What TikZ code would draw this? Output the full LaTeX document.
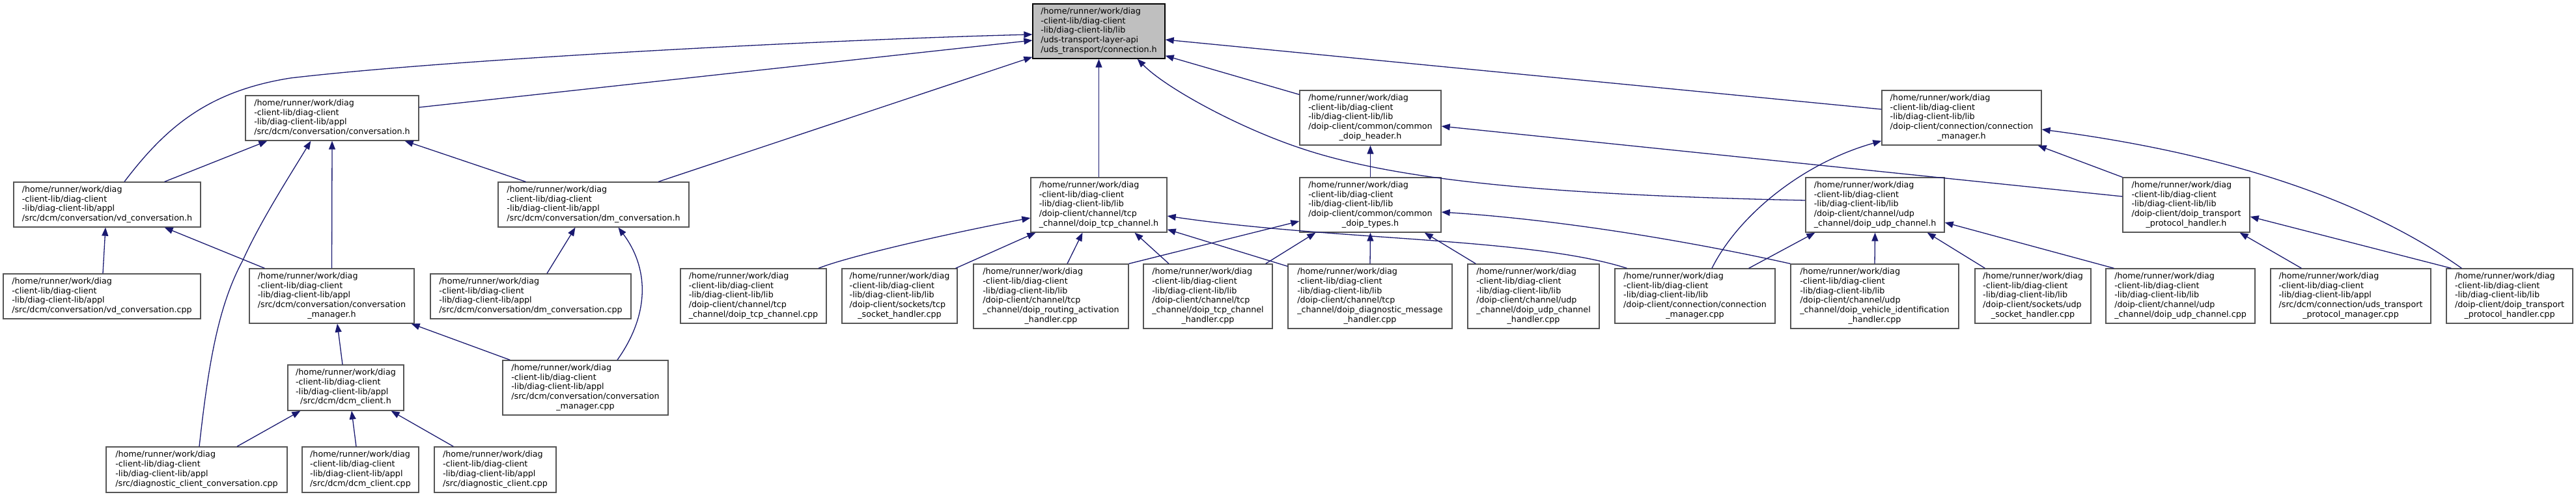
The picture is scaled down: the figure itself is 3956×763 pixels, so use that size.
\documentclass[tikz,border=0pt]{standalone}
\usepackage{fontspec}
\setmainfont{DejaVu Sans}
\usetikzlibrary{arrows.meta}
\definecolor{edgecol}{HTML}{191970}
\definecolor{rootfill}{HTML}{BFBFBF}
\definecolor{boxcol}{HTML}{555555}
\newcommand{\hd}{/home/runner/work/diag\\-client-lib/diag-client\\-lib/diag-client-lib/}
\newcommand{\lbl}[2]{\begin{tabular}{@{}l@{}}#1\\\multicolumn{1}{@{}c@{}}{#2}\end{tabular}}
\tikzset{
  box/.style={draw=boxcol, fill=white, line width=1.3pt, inner sep=0pt, font=\fontsize{12.7}{14.7}\selectfont},
  rootbox/.style={box, draw=black, fill=rootfill},
  edge/.style={draw=edgecol, line width=1.3pt, -{Triangle[length=13pt,width=10pt]}}
}
\begin{document}
\begin{tikzpicture}[x=1pt,y=-1pt]
\useasboundingbox[fill=white] (0,0) rectangle (3956,763);
% row 1
\node[rootbox, minimum width=203pt, minimum height=84pt] (top) at (1687.5,48) {\lbl{/home/runner/work/diag\\-client-lib/diag-client\\-lib/diag-client-lib/lib\\/uds-transport-layer-api}{/uds\_transport/connection.h}};
% row 2
\node[box, minimum width=266pt, minimum height=69pt] (convh) at (510,181.5) {\lbl{\hd appl}{/src/dcm/conversation/conversation.h}};
\node[box, minimum width=217pt, minimum height=84pt] (header) at (2104.5,181) {\lbl{\hd lib\\/doip-client/common/common}{\_doip\_header.h}};
\node[box, minimum width=245pt, minimum height=84pt] (cmgrH) at (3012.5,181) {\lbl{\hd lib\\/doip-client/connection/connection}{\_manager.h}};
% row 3
\node[box, minimum width=287pt, minimum height=69pt] (vdh) at (164.5,314.5) {\lbl{\hd appl}{/src/dcm/conversation/vd\_conversation.h}};
\node[box, minimum width=293pt, minimum height=69pt] (dmh) at (911.5,314.5) {\lbl{\hd appl}{/src/dcm/conversation/dm\_conversation.h}};
\node[box, minimum width=209pt, minimum height=84pt] (tcpH) at (1687.5,315) {\lbl{\hd lib\\/doip-client/channel/tcp}{\_channel/doip\_tcp\_channel.h}};
\node[box, minimum width=217pt, minimum height=84pt] (typesH) at (2104.5,315) {\lbl{\hd lib\\/doip-client/common/common}{\_doip\_types.h}};
\node[box, minimum width=213pt, minimum height=84pt] (udpH) at (2879.5,315) {\lbl{\hd lib\\/doip-client/channel/udp}{\_channel/doip\_udp\_channel.h}};
\node[box, minimum width=195pt, minimum height=84pt] (tphH) at (3357.5,315) {\lbl{\hd lib\\/doip-client/doip\_transport}{\_protocol\_handler.h}};
% row 4
\node[box, minimum width=303pt, minimum height=69pt] (vdcpp) at (156.5,455.5) {\lbl{\hd appl}{/src/dcm/conversation/vd\_conversation.cpp}};
\node[box, minimum width=253pt, minimum height=84pt] (cvmH) at (509.5,455) {\lbl{\hd appl\\/src/dcm/conversation/conversation}{\_manager.h}};
\node[box, minimum width=308pt, minimum height=69pt] (dmcpp) at (815,455.5) {\lbl{\hd appl}{/src/dcm/conversation/dm\_conversation.cpp}};
\node[box, minimum width=224pt, minimum height=84pt] (tcpcpp) at (1157,455) {\lbl{\hd lib\\/doip-client/channel/tcp}{\_channel/doip\_tcp\_channel.cpp}};
\node[box, minimum width=177pt, minimum height=84pt] (tcpsock) at (1381.5,455) {\lbl{\hd lib\\/doip-client/sockets/tcp}{\_socket\_handler.cpp}};
\node[box, minimum width=238pt, minimum height=99pt] (routing) at (1614,455.5) {\lbl{\hd lib\\/doip-client/channel/tcp\\\_channel/doip\_routing\_activation}{\_handler.cpp}};
\node[box, minimum width=198pt, minimum height=99pt] (tcphd) at (1855,455.5) {\lbl{\hd lib\\/doip-client/channel/tcp\\\_channel/doip\_tcp\_channel}{\_handler.cpp}};
\node[box, minimum width=252pt, minimum height=99pt] (diagmsg) at (2104,455.5) {\lbl{\hd lib\\/doip-client/channel/tcp\\\_channel/doip\_diagnostic\_message}{\_handler.cpp}};
\node[box, minimum width=202pt, minimum height=99pt] (udphd) at (2355,455.5) {\lbl{\hd lib\\/doip-client/channel/udp\\\_channel/doip\_udp\_channel}{\_handler.cpp}};
\node[box, minimum width=246pt, minimum height=84pt] (cmgrcpp) at (2603,455) {\lbl{\hd lib\\/doip-client/connection/connection}{\_manager.cpp}};
\node[box, minimum width=258pt, minimum height=99pt] (vehid) at (2879,455.5) {\lbl{\hd lib\\/doip-client/channel/udp\\\_channel/doip\_vehicle\_identification}{\_handler.cpp}};
\node[box, minimum width=178pt, minimum height=84pt] (udpsock) at (3122,455) {\lbl{\hd lib\\/doip-client/sockets/udp}{\_socket\_handler.cpp}};
\node[box, minimum width=229pt, minimum height=84pt] (udpcpp) at (3348.5,455) {\lbl{\hd lib\\/doip-client/channel/udp}{\_channel/doip\_udp\_channel.cpp}};
\node[box, minimum width=246pt, minimum height=84pt] (utpm) at (3610,455) {\lbl{\hd appl\\/src/dcm/connection/uds\_transport}{\_protocol\_manager.cpp}};
\node[box, minimum width=194pt, minimum height=84pt] (tphcpp) at (3854,455) {\lbl{\hd lib\\/doip-client/doip\_transport}{\_protocol\_handler.cpp}};
% row 5
\node[box, minimum width=178pt, minimum height=70pt] (dcmH) at (531,596) {\lbl{\hd appl}{/src/dcm/dcm\_client.h}};
\node[box, minimum width=254pt, minimum height=84pt] (cvmcpp) at (899,596) {\lbl{\hd appl\\/src/dcm/conversation/conversation}{\_manager.cpp}};
% row 6
\node[box, minimum width=278pt, minimum height=70pt] (dcccpp) at (302,722) {\lbl{\hd appl}{/src/diagnostic\_client\_conversation.cpp}};
\node[box, minimum width=179pt, minimum height=70pt] (dcmcpp) at (553.5,722) {\lbl{\hd appl}{/src/dcm/dcm\_client.cpp}};
\node[box, minimum width=187pt, minimum height=70pt] (dccpp) at (760.5,722) {\lbl{\hd appl}{/src/diagnostic\_client.cpp}};
% edges to top
\draw[edge] ([xshift=26.5pt]vdh.north) .. controls (255,195) and (320,140) .. (446,120) .. controls (700,90) and (1300,60) .. ([yshift=-5pt]top.west);
\draw[edge] ([yshift=16.5pt]convh.east) -- ([yshift=-14pt]top.west);
\draw[edge] ([xshift=99.5pt]dmh.north) -- ([yshift=3pt]top.south west);
\draw[edge] (tcpH.north) -- (top.south);
\draw[edge] ([yshift=13pt]cmgrH.west) -- ([yshift=-13pt]top.east);
\draw[edge] ([yshift=-7pt]header.north west) -- ([yshift=5pt]top.south east);
\draw[edge] ([yshift=7pt]udpH.west) .. controls (2400,300) and (2150,280) .. (1995,227) .. controls (1900,195) and (1790,135) .. ([xshift=-43pt]top.south east);
% conversation.h
\draw[edge] ([xshift=-56pt]vdh.north east) -- ([xshift=34pt]convh.south west);
\draw[edge] (cvmH.north) -- (convh.south);
\draw[edge] ([xshift=43pt]dmh.north west) -- ([xshift=-22pt]convh.south east);
\draw[edge] ([xshift=4pt]dcccpp.north) .. controls (320,560) and (335,470) .. (373,400) .. controls (400,340) and (445,270) .. ([xshift=101pt]convh.south west);
% dm_conversation.h
\draw[edge] ([xshift=25pt]dmcpp.north) -- ([xshift=-28pt]dmh.south);
\draw[edge] ([xshift=49pt]cvmcpp.north) .. controls (1000,480) and (995,410) .. ([xshift=38pt]dmh.south);
% vd_conversation.h
\draw[edge] ([xshift=1.5pt]vdcpp.north) -- ([xshift=-2.5pt]vdh.south);
\draw[edge] ([xshift=24pt]cvmH.north west) -- ([xshift=-56pt]vdh.south east);
% conversation_manager.h
\draw[edge] ([xshift=12pt]cvmcpp.north west) -- ([xshift=-5pt]cvmH.south east);
\draw[edge] ([xshift=-5pt]dcmH.north) -- ([xshift=8.5pt]cvmH.south);
% dcm_client.h
\draw[edge] ([xshift=62pt]dcccpp.north) -- ([xshift=20pt]dcmH.south west);
\draw[edge] ([xshift=-6.5pt]dcmcpp.north) -- ([xshift=9pt]dcmH.south);
\draw[edge] ([xshift=30pt]dccpp.north west) -- ([xshift=-20pt]dcmH.south east);
% doip_tcp_channel.h
\draw[edge] ([xshift=100pt]tcpcpp.north) .. controls (1300,395) and (1450,360) .. ([yshift=-20pt]tcpH.west);
\draw[edge] ([xshift=-3pt]tcpsock.north east) -- ([xshift=8pt]tcpH.south west);
\draw[edge] ([xshift=25pt]routing.north) -- ([xshift=-25pt]tcpH.south);
\draw[edge] ([xshift=-60pt]tcphd.north) -- ([xshift=55pt]tcpH.south);
\draw[edge] ([yshift=-4pt]diagmsg.north west) -- ([yshift=5pt]tcpH.south east);
\draw[edge] ([xshift=19pt]cmgrcpp.north west) .. controls (2350,365) and (2050,370) .. ([yshift=-17pt]tcpH.east);
% common_doip_header.h
\draw[edge] (typesH.north) -- (header.south);
\draw[edge] ([yshift=13pt]tphH.west) -- ([yshift=-13pt]header.east);
% common_doip_types.h
\draw[edge] (routing.north east) -- ([yshift=-25pt]typesH.west);
\draw[edge] ([xshift=-11pt]tcphd.north east) -- ([xshift=25pt]typesH.south west);
\draw[edge] (diagmsg.north) -- (typesH.south);
\draw[edge] ([xshift=13pt]udphd.north west) -- ([xshift=-26pt]typesH.south east);
\draw[edge] (vehid.north west) .. controls (2600,372) and (2400,338) .. ([yshift=-11pt]typesH.east);
% doip_udp_channel.h
\draw[edge] ([xshift=-41pt]cmgrcpp.north east) -- ([xshift=15pt]udpH.south west);
\draw[edge] (vehid.north) -- (udpH.south);
\draw[edge] ([xshift=16pt]udpsock.north west) -- ([xshift=-27pt]udpH.south east);
\draw[edge] ([xshift=13pt]udpcpp.north west) -- ([yshift=-27pt]udpH.east);
% connection_manager.h
\draw[edge] ([xshift=26pt]cmgrcpp.north) .. controls (2670,330) and (2770,250) .. ([yshift=7pt]cmgrH.south west);
\draw[edge] (tphH.north west) -- ([xshift=-6pt]cmgrH.south east);
\draw[edge] ([xshift=24pt]tphcpp.north west) .. controls (3650,320) and (3450,240) .. ([yshift=-18pt]cmgrH.east);
% doip_transport_protocol_handler.h
\draw[edge] ([xshift=48pt]utpm.north west) -- ([xshift=-16pt]tphH.south east);
\draw[edge] ([xshift=8pt]tphcpp.north west) -- ([yshift=-18pt]tphH.east);
\end{tikzpicture}
\end{document}
